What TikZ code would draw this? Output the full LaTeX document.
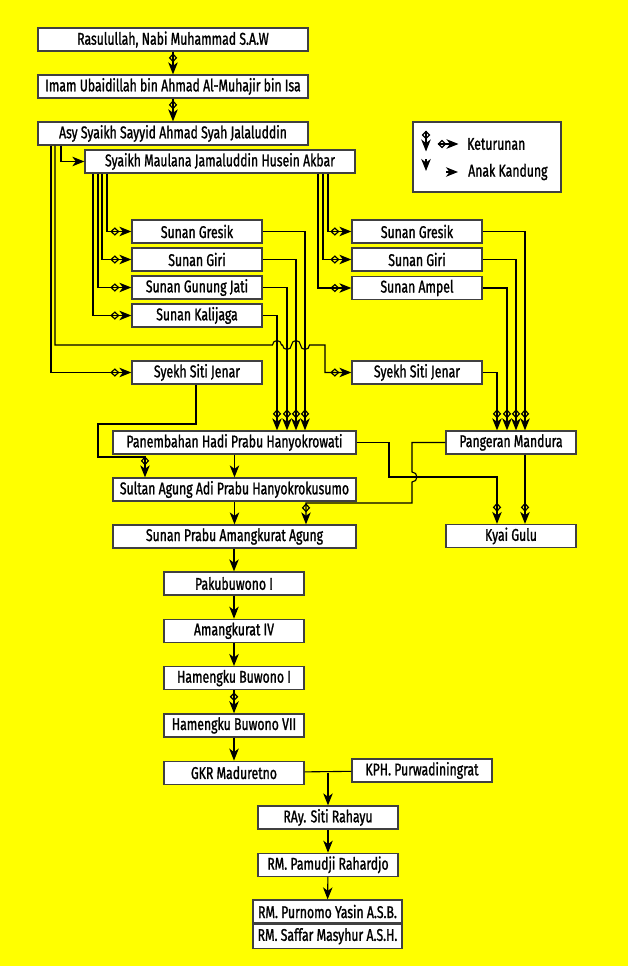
\documentclass[tikz,border=0pt]{standalone}
\usepackage{fontspec}
\setmainfont{Fira Sans}[FakeStretch=0.72, FakeBold=1.2]
\usepackage{tikz}
\usetikzlibrary{arrows.meta,positioning}
\definecolor{bgyellow}{RGB}{255,255,0}
\tikzset{
    box/.style={draw=black!75, line width=1.3pt, fill=white, minimum height=23pt, inner sep=0pt, font=\fontsize{17}{17}\selectfont},
    longbox/.style={box, minimum width=270pt},
    midbox/.style={box, minimum width=243pt},
    shortbox/.style={box, minimum width=130pt},
    chainbox/.style={box, minimum width=140pt},
    anak/.style={-{Stealth[length=12pt, width=9.5pt, inset=3.5pt]}, line width=1.1pt},
    turun/.style={-{Diamond[open, length=9pt, width=8.5pt, line width=1.2pt] Stealth[length=12pt, width=9.5pt, inset=3.5pt]}, line width=1.1pt},
    legendtext/.style={anchor=west, inner sep=0pt, font=\fontsize{17}{17}\selectfont}
}
\begin{document}
\begin{tikzpicture}[x=1pt, y=-1pt, node distance=23pt]
\fill[bgyellow] (0,0) rectangle (628,966);
\useasboundingbox (0,0) rectangle (628,966);

\node[longbox] (rasul) at (173,39.5) {Rasulullah, Nabi Muhammad S.A.W};
\node[longbox] (imam) at (173,86.5) {Imam Ubaidillah bin Ahmad Al-Muhajir bin Isa};
\node[longbox] (asy) at (173,133.5) {Asy Syaikh Sayyid Ahmad Syah Jalaluddin};
\node[longbox] (maulana) at (220,161.5) {Syaikh Maulana Jamaluddin Husein Akbar};

\node[shortbox] (gresikL) at (197,231.5) {Sunan Gresik};
\node[shortbox] (giriL) at (197,259.5) {Sunan Giri};
\node[shortbox] (jatiL) at (197,287.5) {Sunan Gunung Jati};
\node[shortbox] (kalijagaL) at (197,315.5) {Sunan Kalijaga};
\node[shortbox] (jenarL) at (197,372.5) {Syekh Siti Jenar};

\node[shortbox] (gresikR) at (417,231.5) {Sunan Gresik};
\node[shortbox] (giriR) at (417,259.5) {Sunan Giri};
\node[shortbox] (ampelR) at (417,288) {Sunan Ampel};
\node[shortbox] (jenarR) at (417,372.5) {Syekh Siti Jenar};

\node[midbox] (panembahan) at (234.5,442.5) {Panembahan Hadi Prabu Hanyokrowati};
\node[shortbox] (mandura) at (511,442.5) {Pangeran Mandura};
\node[midbox] (sultan) at (234.5,489.5) {Sultan Agung Adi Prabu Hanyokrokusumo};
\node[midbox] (prabu) at (234.5,536.5) {Sunan Prabu Amangkurat Agung};
\node[shortbox] (gulu) at (511,536) {Kyai Gulu};

\node[chainbox] (paku) at (234,583.5) {Pakubuwono I};
\node[chainbox, below=of paku] (amang) {Amangkurat IV};
\node[chainbox, below=of amang] (hb1) {Hamengku Buwono I};
\node[chainbox, below=of hb1] (hb7) {Hamengku Buwono VII};
\node[chainbox, below=of hb7] (gkr) {GKR Maduretno};
\node[chainbox] (kph) at (422,770.5) {KPH. Purwadiningrat};
\node[chainbox] (ray) at (328,817.5) {RAy. Siti Rahayu};
\node[chainbox, below=of ray] (pamudji) {RM. Pamudji Rahardjo};
\node[box, minimum width=149pt] (purnomo) at (327.5,911.5) {RM. Purnomo Yasin A.S.B.};
\node[box, minimum width=149pt, minimum height=24pt, below=0pt of purnomo] (saffar) {RM. Saffar Masyhur A.S.H.};

\node[draw=black!75, line width=1.3pt, fill=white, minimum width=148pt, minimum height=70pt] (legend) at (487,157) {};
\node[legendtext] (ketlabel) at (467,144) {Keturunan};
\node[legendtext] (anaklabel) at (468,172) {Anak Kandung};
\coordinate (kv1) at (426,130.5); \coordinate (kv2) at (426,151.5);
\coordinate (kh1) at (437.5,144); \coordinate (kh2) at (458.5,144);
\coordinate (av1) at (426,159); \coordinate (av2) at (426,171);
\coordinate (ah1) at (446,172); \coordinate (ah2) at (458,172);
\draw[turun] (kv1) -- (kv2);
\draw[turun] (kh1) -- (kh2);
\draw[anak] (av1) -- (av2);
\draw[anak] (ah1) -- (ah2);

\draw[turun] (rasul) -- (imam);
\draw[turun] (imam) -- (asy);
\draw[anak] (asy.south -| 61,0) |- (maulana);
\draw[turun] (asy.south -| 51,0) |- (jenarL);
\draw[turun] (asy.south -| 55,0) -- (55,345) -- (272.5,345)
    arc[start angle=180, end angle=360, radius=4.5] -- (282.5,345)
    arc[start angle=180, end angle=0, radius=4.5]
    arc[start angle=180, end angle=360, radius=4.5]
    arc[start angle=180, end angle=0, radius=4.5]
    -- (325,345) |- (jenarR);

\draw[turun] (maulana.south -| 107,0) |- (gresikL);
\draw[turun] (maulana.south -| 102,0) |- (giriL);
\draw[turun] (maulana.south -| 98,0) |- (jatiL);
\draw[turun] (maulana.south -| 93,0) |- (kalijagaL);
\draw[turun] (maulana.south -| 328,0) |- (gresikR);
\draw[turun] (maulana.south -| 323,0) |- (giriR);
\draw[turun] (maulana.south -| 318,0) |- (ampelR);

\draw[turun] (gresikL) -| (panembahan.north -| 305,0);
\draw[turun] (giriL) -| (panembahan.north -| 296,0);
\draw[turun] (jatiL) -| (panembahan.north -| 287,0);
\draw[turun] (kalijagaL) -| (panembahan.north -| 277,0);
\draw[turun] (gresikR) -| (mandura.north -| 525,0);
\draw[turun] (giriR) -| (mandura.north -| 516,0);
\draw[turun] (ampelR) -| (mandura.north -| 507,0);
\draw[turun] (jenarR) -| (mandura.north -| 497,0);

\draw[turun] (jenarL.south -| 196,0) -- (196,424) -- (98,424) |- (145,457) -- (sultan.north -| 145,0);
\draw[anak] (panembahan) -- (sultan);
\draw[anak] (sultan) -- (prabu);
\draw[turun] (panembahan) -| (389,477) -| (gulu.north -| 497,0);
\draw[turun] (mandura) -| (412,472)
    arc[start angle=-90, end angle=90, radius=5]
    -- (412,503) -| (prabu.north -| 306,0);
\draw[turun] (mandura.south -| 525,0) -- (gulu.north -| 525,0);

\draw[anak] (prabu.south -| paku) -- (paku);
\draw[anak] (paku) -- (amang);
\draw[anak] (amang) -- (hb1);
\draw[turun] (hb1) -- (hb7);
\draw[anak] (hb7) -- (gkr);
\draw[line width=1.1pt] (gkr) -- (kph);
\draw[anak] (gkr.east -| ray) -- (ray);
\draw[anak] (ray) -- (pamudji);
\draw[anak] (pamudji) -- (purnomo);
\end{tikzpicture}
\end{document}
